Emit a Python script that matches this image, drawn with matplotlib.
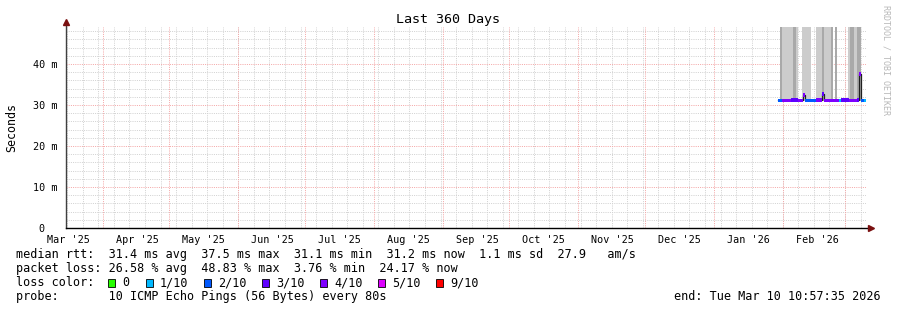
import matplotlib
matplotlib.use('Agg')
import matplotlib.pyplot as plt
from matplotlib.patches import Rectangle
from datetime import datetime, timedelta

END = datetime(2026, 3, 10, 10, 57, 35)
START = END - timedelta(days=360)

# smoke (grey) blocks: start, end, shade level (0 light, 1 dark)
smoke_start = ['2026-01-30 14:40', '2026-01-31 20:00', '2026-02-05 18:40', '2026-02-07 01:00',
               '2026-02-09 12:30', '2026-02-14 22:00', '2026-02-15 19:40', '2026-02-18 20:00',
               '2026-02-19 08:00', '2026-02-22 21:00', '2026-02-24 09:00', '2026-03-02 08:40',
               '2026-03-03 06:00', '2026-03-05 01:30', '2026-03-06 14:00']
smoke_end = ['2026-01-31 20:00', '2026-02-05 18:40', '2026-02-07 01:00', '2026-02-07 17:00',
             '2026-02-13 13:40', '2026-02-15 06:00', '2026-02-18 20:00', '2026-02-19 08:00',
             '2026-02-22 21:00', '2026-02-23 19:00', '2026-02-25 06:30', '2026-03-03 06:00',
             '2026-03-05 01:30', '2026-03-06 14:00', '2026-03-08 09:20']
smoke_level = [1, 0, 1, 0, 0, 0, 0, 1, 0, 1, 1, 0, 1, 0, 1]

# median rtt (ms) per bin and loss colour index
med_start = ['2026-01-29 17:00', '2026-01-31 12:00', '2026-02-04 13:40', '2026-02-07 17:00',
             '2026-02-09 23:00', '2026-02-10 20:40', '2026-02-15 19:40', '2026-02-18 12:30',
             '2026-02-19 10:00', '2026-02-26 04:00', '2026-02-27 01:40', '2026-03-02 16:00',
             '2026-03-06 06:30', '2026-03-07 04:00', '2026-03-08 01:40', '2026-03-09 10:00']
med_ms = [31.1, 31.1, 31.2, 31.1, 32.4, 31.1, 31.2, 32.7, 31.1, 31.1, 31.2, 31.1, 31.2, 37.5, 31.1, 31.1]
med_loss = [2, 4, 3, 4, 4, 2, 4, 3, 4, 1, 3, 4, 3, 4, 2, 1]

loss_labels = ['0', '1/10', '2/10', '3/10', '4/10', '5/10', '9/10']
loss_colors = ['#26ff00', '#00b8ff', '#0059ff', '#5e00ff', '#7e00ff', '#dd00ff', '#ff0000']
smoke_colors = ['#cccccc', '#a9a9a9']

y_ticks = [0, 10, 20, 30, 40]

plt.rcParams['font.family'] = ['DejaVu Sans Mono']

W, H = 897, 310
fig = plt.figure(figsize=(W / 100, H / 100), dpi=100)
fig.patch.set_facecolor('white')

# plot area in pixels
L, R, T, B = 66, 866, 27, 228
ax = fig.add_axes([L / W, 1 - B / H, (R - L) / W, (B - T) / H])
for s in ax.spines.values():
    s.set_visible(False)

# grid, dotted
dot = (0, (1, 1.2))
gkw = dict(lw=0.72, ls=dot)
minor_c, major_c = '#d2d2d2', '#f4a8a8'
for v in range(0, 50, 2):
    if v % 10:
        ax.axhline(v, color=minor_c, zorder=0, **gkw)
for v in y_ticks[1:]:
    ax.axhline(v, color=major_c, zorder=0.5, **gkw)
d = datetime(2025, 3, 16)
while d < END:
    if d > START:
        ax.axvline(d, color=minor_c, zorder=0, **gkw)
    d += timedelta(days=7)
months = []
m = datetime(2025, 3, 1)
while m < END:
    months.append(m)
    m = datetime(m.year + (m.month // 12), m.month % 12 + 1, 1)
for m in months:
    if m > START:
        ax.axvline(m, color=major_c, zorder=0.5, **gkw)

# smoke
for s0, s1, lv in zip(smoke_start, smoke_end, smoke_level):
    ax.fill_between([datetime.fromisoformat(s0), datetime.fromisoformat(s1)], 31.0, 60,
                    color=smoke_colors[lv], lw=0, zorder=1)

# median line (thin dark) + loss coloured band
t = [datetime.fromisoformat(s) for s in med_start] + [END]
ax.step(t, med_ms + [med_ms[-1]], where='post', color='#202020', lw=0.9, zorder=2)
for i, v in enumerate(med_ms):
    ax.fill_between([t[i], t[i + 1]], v - 0.45, v + 0.45, color=loss_colors[med_loss[i]],
                    lw=0, zorder=3)

# ticks
ax.set_yticks(y_ticks)
ax.set_yticklabels(['0  '] + ['%d m' % v for v in y_ticks[1:]])
mids = [datetime(m.year, m.month, 16, 12) for m in months]
mids = [x for x in mids if START < x < END]
ax.set_xticks(mids)
ax.set_xticklabels([x.strftime("%b '%y") for x in mids])
ax.set_xlim(START, END)
ax.set_ylim(0, 49)
ax.tick_params(axis='x', length=0, pad=5, labelsize=7.3, colors='#000000')
ax.tick_params(axis='y', length=0, pad=6, labelsize=7.3)
ax.set_ylabel('Seconds', fontsize=8.4, labelpad=11)

# axes lines with arrows
ax.plot([0, 0], [0, 1.02], transform=ax.transAxes, color='#404040', lw=1, clip_on=False, zorder=4)
ax.plot([0, 1.004], [0, 0], transform=ax.transAxes, color='#000000', lw=1, clip_on=False, zorder=4)
ax.plot([0], [1.025], transform=ax.transAxes, marker='^', color='#7a1010', ms=4, clip_on=False, zorder=5)
ax.plot([1.006], [0], transform=ax.transAxes, marker='>', color='#7a1010', ms=4, clip_on=False, zorder=5)

# overlay in pixel coordinates for title and legend
ov = fig.add_axes([0, 0, 1, 1])
ov.set_xlim(0, W)
ov.set_ylim(H, 0)
ov.axis('off')
ov.patch.set_alpha(0)

ov.text(448, 19, 'Last 360 Days', ha='center', va='center', fontsize=9.6)
ov.text(886, 60, 'RRDTOOL / TOBI OETIKER', ha='center', va='center', rotation=270,
        fontsize=6, color='#b8b8b8')

fs = 8.5
ov.text(16, 254.5, 'median rtt:  31.4 ms avg  37.5 ms max  31.1 ms min  31.2 ms now  1.1 ms sd  27.9   am/s',
        ha='left', va='center', fontsize=fs)
ov.text(16, 268.5, 'packet loss: 26.58 % avg  48.83 % max  3.76 % min  24.17 % now',
        ha='left', va='center', fontsize=fs)
ov.text(16, 282.5, 'loss color:', ha='left', va='center', fontsize=fs)
sq_x = [108, 146, 204, 262, 320, 378, 436]
for x, lab, c in zip(sq_x, loss_labels, loss_colors):
    ov.add_patch(Rectangle((x, 278.5), 7, 8, facecolor=c, edgecolor='#000000', lw=0.6))
    ov.text(x + 14, 282.5, lab, ha='left', va='center', fontsize=fs)
ov.text(16, 296.5, 'probe:       10 ICMP Echo Pings (56 Bytes) every 80s',
        ha='left', va='center', fontsize=fs)
ov.text(881, 296.5, 'end: Tue Mar 10 10:57:35 2026', ha='right', va='center', fontsize=fs)

fig.savefig('out.png', dpi=100, facecolor='white')
